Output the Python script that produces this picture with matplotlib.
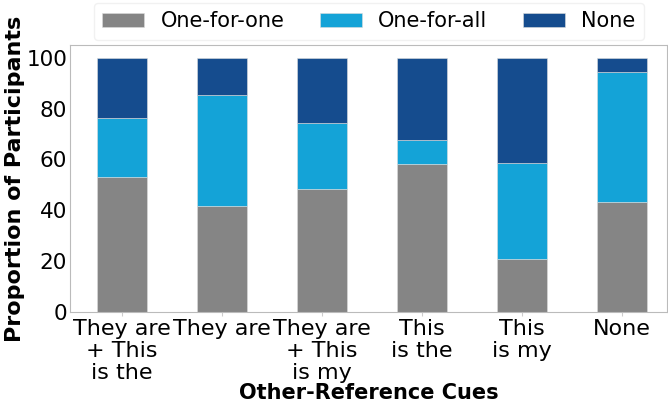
import matplotlib.pyplot as plt
import numpy as np

cues = ["They are\n+ This\nis the", "They are", "They are\n+ This\nis my",
        "This\nis the", "This\nis my", "None"]
one_for_one = [52.9, 41.5, 48.4, 58.1, 20.7, 43.4]
one_for_all = [23.5, 43.8, 25.9, 9.4, 37.8, 51.1]
none = [23.6, 14.7, 25.7, 32.5, 41.5, 5.5]

colors = ["#858585", "#14A3D7", "#154C8E"]
labels = ["One-for-one", "One-for-all", "None"]

fig = plt.figure(figsize=(6.68, 4.09), dpi=100)
ax = fig.add_axes([70 / 668, 1 - 312 / 409, 597 / 668, 267 / 409])

x = np.arange(len(cues))
bottom = np.zeros(len(cues))
for vals, c, lab in zip([one_for_one, one_for_all, none], colors, labels):
    ax.bar(x, vals, width=0.5, bottom=bottom, color=c, label=lab,
           edgecolor="#dddddd", linewidth=0.4)
    bottom += np.array(vals)

ax.set_xlim(-0.52, 5.45)
ax.set_ylim(0, 105)
ax.set_xticks(x)
ax.set_xticklabels(cues, fontsize=16, linespacing=1.12)
ax.set_yticks([0, 20, 40, 60, 80, 100])
ax.tick_params(axis="y", labelsize=15.5, length=0, pad=2)
ax.tick_params(axis="x", length=3, color="#cccccc", pad=2)
for s in ax.spines.values():
    s.set_color("#bbbbbb")
    s.set_linewidth(0.8)

ax.set_ylabel("Proportion of Participants", fontsize=16, fontweight="bold", labelpad=1)
ax.set_xlabel("Other-Reference Cues", fontsize=15, fontweight="bold", labelpad=0)

fig.legend(loc="upper left", bbox_to_anchor=(94 / 668, 1 - 3 / 409), ncol=3,
           fontsize=15, frameon=True, edgecolor="#eeeeee", handlelength=2.0,
           handleheight=0.7, columnspacing=1.7, handletextpad=0.8, borderpad=0.4,
           borderaxespad=0)

fig.savefig("out.png", dpi=100)
